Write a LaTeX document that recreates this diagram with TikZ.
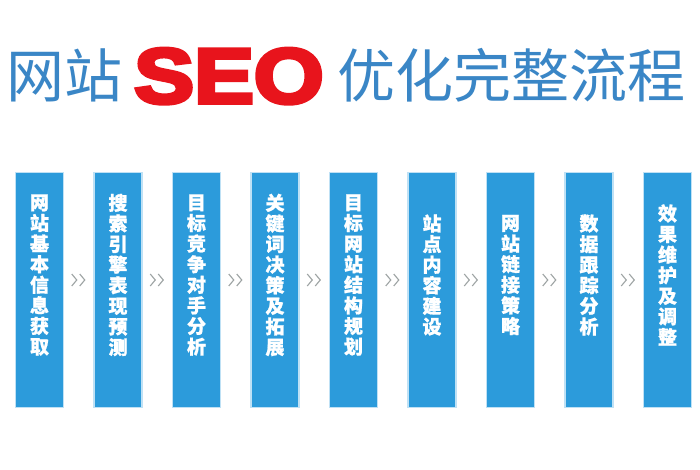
\documentclass[tikz,border=0pt]{standalone}
\usepackage{fontspec}
\usetikzlibrary{calc}
\newfontfamily\cjk[BoldFeatures={FakeBold=1}]{Noto Sans CJK SC}
\newfontfamily\seofont[FakeBold=5]{Liberation Sans}
\definecolor{titleblue}{HTML}{3A86C6}
\definecolor{seored}{HTML}{E8141C}
\definecolor{boxblue}{HTML}{2C9BDB}
\definecolor{glow}{HTML}{BFE1F5}
\definecolor{chevgray}{HTML}{9EA4A4}
\tikzset{
  stepbox/.style={fill=boxblue, draw=glow, line width=1.5pt, minimum width=48pt, minimum height=235pt, inner sep=0pt},
  steptext/.style={text=white, font=\cjk\bfseries\fontsize{19}{20.6}\selectfont, align=center, inner sep=0pt},
  chev/.style={minimum width=17pt, minimum height=13pt, inner sep=0pt,
    path picture={\draw[chevgray, line width=1.1pt, shift={(path picture bounding box.center)}]
      (-7,-6) -- (-2,0) -- (-7,6) (1,-6) -- (6,0) -- (1,6);}},
  titlecjk/.style={text=titleblue, font=\cjk\fontsize{58}{58}\selectfont, inner sep=0pt, anchor=base west},
}
\begin{document}
\begin{tikzpicture}[x=1pt, y=-1pt]
\useasboundingbox[fill=white] (0,0) rectangle (700,470);
% title
\node[titlecjk] (t1) at (6,98) {网站};
\node[text=seored, font=\seofont\bfseries\fontsize{78}{78}\selectfont, inner sep=0pt, anchor=base west, xscale=1.15] (seo) at (134,103) {SEO};
\node[titlecjk] (t2) at (337,98) {优化完整流程};
% boxes
\foreach \i/\txt in {1/{网\\站\\基\\本\\信\\息\\获\\取},
                    2/{搜\\索\\引\\擎\\表\\现\\预\\测},
                    3/{目\\标\\竞\\争\\对\\手\\分\\析},
                    4/{关\\键\\词\\决\\策\\及\\拓\\展},
                    5/{目\\标\\网\\站\\结\\构\\规\\划},
                    6/{站\\点\\内\\容\\建\\设},
                    7/{网\\站\\链\\接\\策\\略},
                    8/{数\\据\\跟\\踪\\分\\析},
                    9/{效\\果\\维\\护\\及\\调\\整}}{
  \node[stepbox] (b\i) at ({39.5+78.5*(\i-1)},290) {};
  \node[steptext] (l\i) at ($(b\i.center)+(0,-15)$) {\txt};
}
% chevrons between steps
\foreach \i [evaluate=\i as \j using int(\i+1)] in {1,...,8}{
  \path (b\i.east) -- node[chev, yshift=10pt] (c\i) {} (b\j.west);
}
\end{tikzpicture}
\end{document}
